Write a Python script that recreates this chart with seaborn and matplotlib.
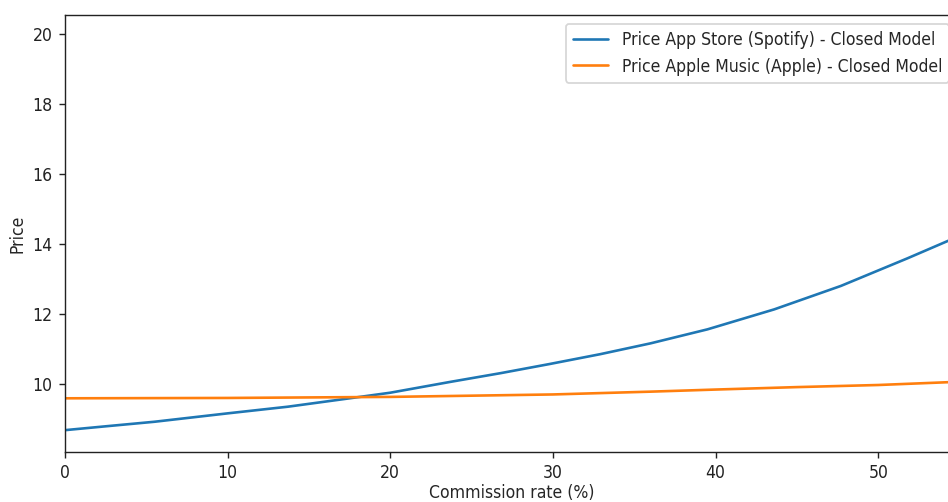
import matplotlib
matplotlib.use("Agg")
import matplotlib.pyplot as plt
import seaborn as sns

# Spotify (App Store) price readings
commission_spotify = [0, 2.5, 5.5, 10, 13.7, 17.5, 20, 23.7, 26.8, 29.8, 32.9, 36,
                      39.5, 43.6, 47.7, 51.8, 54.3, 56]
price_spotify = [8.69, 8.80, 8.93, 9.17, 9.36, 9.60, 9.76, 10.07, 10.32, 10.58, 10.86, 11.17,
                 11.57, 12.14, 12.81, 13.60, 14.10, 14.45]

# Apple Music price readings
commission_apple = [0, 10, 20, 30, 36, 40, 45, 50, 54.3, 56]
price_apple = [9.60, 9.61, 9.64, 9.71, 9.79, 9.85, 9.92, 9.98, 10.06, 10.09]

label_spotify = "Price App Store (Spotify) - Closed Model"
label_apple = "Price Apple Music (Apple) - Closed Model"
x_ticks = [0, 10, 20, 30, 40, 50]
y_ticks = [10, 12, 14, 16, 18, 20]

sns.set_style("ticks")
plt.rcParams['font.family'] = ['DejaVu Sans']
plt.rcParams['font.stretch'] = 'condensed'
plt.rcParams['font.size'] = 10

DPI = 126
W, H = 948, 502
fig = plt.figure(figsize=(W / DPI, H / DPI), dpi=DPI)
left_px, right_px, top_px, bottom_px = 65, 958, 15, 452
ax = fig.add_axes([left_px / W, (H - bottom_px) / H,
                   (right_px - left_px) / W, (bottom_px - top_px) / H])

sns.lineplot(x=commission_spotify, y=price_spotify, ax=ax, color="#1f77b4",
             linewidth=1.5, label=label_spotify)
sns.lineplot(x=commission_apple, y=price_apple, ax=ax, color="#ff7f0e",
             linewidth=1.5, label=label_apple)

ax.set_xlim(0, (right_px - 65.3) / 16.26)
ax.set_ylim(8.066, 20.55)
ax.set_xticks(x_ticks)
ax.set_yticks(y_ticks)
ax.set_xlabel("Commission rate (%)", fontsize=10, labelpad=1.0)
ax.set_ylabel("Price", fontsize=10, labelpad=3.5)
ax.tick_params(labelsize=10, colors="#222222", direction="out", length=3.5, width=0.8)
for s in ax.spines.values():
    s.set_color("#222222")
    s.set_linewidth(0.8)
ax.legend(loc="upper right", fontsize=10, frameon=True)

fig.savefig("out.png", dpi=DPI)
